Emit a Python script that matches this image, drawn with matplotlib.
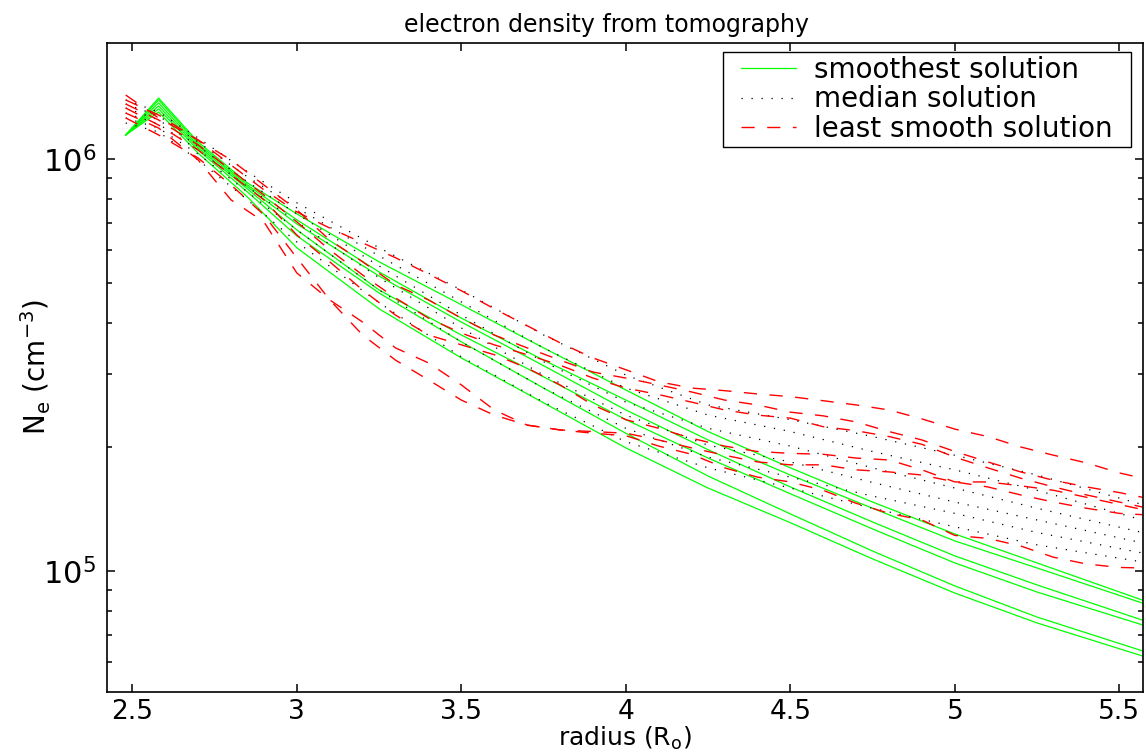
import matplotlib
matplotlib.use("Agg")
import matplotlib.pyplot as plt
from matplotlib.patches import Rectangle
from matplotlib.ticker import FixedLocator, FixedFormatter, LogLocator, NullFormatter, LogFormatterSciNotation

# ---------------- data ----------------
radius_smooth = [2.48, 2.58, 2.7, 2.85, 3.0, 3.25, 3.5, 3.75, 4.0, 4.25, 4.5, 4.75, 5.0, 5.25, 5.57]
radius_rough = [2.48, 2.58, 2.7, 2.8, 2.9, 3.0, 3.1, 3.2, 3.3, 3.4, 3.5, 3.6, 3.7, 3.8, 3.9, 4.0,
                4.1, 4.2, 4.3, 4.4, 4.5, 4.6, 4.7, 4.8, 4.9, 5.0, 5.1, 5.2, 5.3, 5.4, 5.5, 5.57]

smooth_1 = [1.144e6, 1.406e6, 1.100e6, 8.75e5, 7.36e5, 5.63e5, 4.43e5, 3.48e5, 2.75e5, 2.18e5, 1.78e5, 1.47e5, 1.23e5, 1.046e5, 8.50e4]
smooth_2 = [1.144e6, 1.391e6, 1.088e6, 8.65e5, 7.12e5, 5.32e5, 4.11e5, 3.25e5, 2.60e5, 2.08e5, 1.71e5, 1.42e5, 1.183e5, 1.017e5, 8.36e4]
smooth_3 = [1.144e6, 1.368e6, 1.076e6, 8.56e5, 6.96e5, 5.20e5, 4.02e5, 3.15e5, 2.46e5, 1.97e5, 1.60e5, 1.315e5, 1.088e5, 9.25e4, 7.60e4]
smooth_4 = [1.144e6, 1.345e6, 1.064e6, 8.46e5, 6.73e5, 4.81e5, 3.74e5, 2.96e5, 2.33e5, 1.88e5, 1.54e5, 1.265e5, 1.046e5, 8.89e4, 7.40e4]
smooth_5 = [1.144e6, 1.323e6, 1.052e6, 8.32e5, 6.51e5, 4.73e5, 3.60e5, 2.78e5, 2.16e5, 1.70e5, 1.376e5, 1.118e5, 9.20e4, 7.73e4, 6.40e4]
smooth_6 = [1.144e6, 1.300e6, 1.034e6, 8.09e5, 6.09e5, 4.33e5, 3.29e5, 2.56e5, 1.99e5, 1.59e5, 1.31e5, 1.07e5, 8.84e4, 7.48e4, 6.22e4]

median_1 = [1.391e6, 1.300e6, 1.125e6, 9.31e5, 7.83e5, 6.09e5, 4.81e5, 3.74e5, 2.99e5, 2.53e5, 2.33e5, 2.12e5, 1.91e5, 1.71e5, 1.45e5]
median_2 = [1.360e6, 1.272e6, 1.100e6, 9.05e5, 7.61e5, 5.82e5, 4.50e5, 3.48e5, 2.78e5, 2.39e5, 2.18e5, 1.95e5, 1.76e5, 1.57e5, 1.33e5]
median_3 = [1.330e6, 1.244e6, 1.076e6, 8.80e5, 7.36e5, 5.50e5, 4.18e5, 3.22e5, 2.57e5, 2.22e5, 2.01e5, 1.78e5, 1.59e5, 1.42e5, 1.24e5]
median_4 = [1.293e6, 1.216e6, 1.052e6, 8.56e5, 7.04e5, 5.15e5, 3.89e5, 2.99e5, 2.39e5, 2.02e5, 1.84e5, 1.64e5, 1.47e5, 1.33e5, 1.17e5]
median_5 = [1.258e6, 1.189e6, 1.028e6, 8.32e5, 6.73e5, 4.81e5, 3.60e5, 2.78e5, 2.22e5, 1.89e5, 1.69e5, 1.52e5, 1.38e5, 1.24e5, 1.106e5]
median_6 = [1.223e6, 1.163e6, 9.95e5, 7.96e5, 6.29e5, 4.48e5, 3.31e5, 2.57e5, 2.06e5, 1.78e5, 1.59e5, 1.42e5, 1.28e5, 1.157e5, 1.052e5]

rough_1 = [1.430e6, 1.258e6, 1.112e6, 9.67e5, 8.42e5, 7.44e5, 6.80e5, 6.26e5, 5.76e5, 5.26e5, 4.79e5, 4.33e5, 3.94e5, 3.58e5, 3.29e5, 3.08e5,
           2.88e5, 2.78e5, 2.74e5, 2.69e5, 2.65e5, 2.59e5, 2.53e5, 2.46e5, 2.34e5, 2.21e5, 2.12e5, 2.00e5, 1.91e5, 1.83e5, 1.73e5, 1.68e5]
rough_2 = [1.391e6, 1.279e6, 1.112e6, 9.95e5, 8.65e5, 7.53e5, 6.36e5, 5.63e5, 4.95e5, 4.55e5, 4.11e5, 3.74e5, 3.48e5, 3.25e5, 3.04e5, 2.94e5,
           2.83e5, 2.72e5, 2.60e5, 2.53e5, 2.43e5, 2.38e5, 2.30e5, 2.18e5, 2.08e5, 1.95e5, 1.84e5, 1.74e5, 1.66e5, 1.60e5, 1.55e5, 1.51e5]
rough_3 = [1.360e6, 1.244e6, 1.082e6, 9.40e5, 8.18e5, 7.04e5, 6.02e5, 5.23e5, 4.60e5, 4.11e5, 3.78e5, 3.54e5, 3.35e5, 3.16e5, 2.94e5, 2.78e5,
           2.68e5, 2.57e5, 2.46e5, 2.39e5, 2.35e5, 2.24e5, 2.19e5, 2.12e5, 2.03e5, 1.89e5, 1.78e5, 1.68e5, 1.60e5, 1.53e5, 1.47e5, 1.43e5]
rough_4 = [1.330e6, 1.209e6, 1.052e6, 9.15e5, 7.96e5, 6.54e5, 5.63e5, 4.81e5, 4.18e5, 3.74e5, 3.54e5, 3.35e5, 3.11e5, 2.83e5, 2.53e5, 2.33e5,
           2.22e5, 2.10e5, 2.01e5, 1.95e5, 1.93e5, 1.92e5, 1.88e5, 1.86e5, 1.76e5, 1.645e5, 1.645e5, 1.61e5, 1.57e5, 1.51e5, 1.45e5, 1.41e5]
rough_5 = [1.258e6, 1.144e6, 1.006e6, 8.65e5, 7.32e5, 5.76e5, 4.55e5, 3.74e5, 3.25e5, 2.91e5, 2.60e5, 2.39e5, 2.26e5, 2.20e5, 2.18e5, 2.16e5,
           2.08e5, 1.99e5, 1.91e5, 1.84e5, 1.81e5, 1.81e5, 1.76e5, 1.74e5, 1.71e5, 1.645e5, 1.60e5, 1.53e5, 1.47e5, 1.42e5, 1.38e5, 1.37e5]
rough_6 = [1.293e6, 1.189e6, 9.95e5, 7.96e5, 7.04e5, 5.29e5, 4.55e5, 4.02e5, 3.48e5, 3.20e5, 2.83e5, 2.46e5, 2.26e5, 2.20e5, 2.16e5, 2.13e5,
           2.01e5, 1.92e5, 1.78e5, 1.69e5, 1.645e5, 1.57e5, 1.46e5, 1.38e5, 1.33e5, 1.22e5, 1.20e5, 1.15e5, 1.08e5, 1.04e5, 1.02e5, 1.017e5]

smoothest = [smooth_1, smooth_2, smooth_3, smooth_4, smooth_5, smooth_6]
median = [median_1, median_2, median_3, median_4, median_5, median_6]
least_smooth = [rough_1, rough_2, rough_3, rough_4, rough_5, rough_6]

legend_labels = ["smoothest solution", "median solution", "least smooth solution"]
x_ticks = [2.5, 3, 3.5, 4, 4.5, 5, 5.5]
x_tick_labels = ["2.5", "3", "3.5", "4", "4.5", "5", "5.5"]
y_major = [1e5, 1e6]
title_text = "electron density from tomography"
x_label = r"radius (R$_\mathregular{o}$)"
y_label = r"N$_\mathregular{e}$ (cm$^\mathregular{-3}$)"

# ---------------- style ----------------
FONT = "DejaVu Sans"
plt.rcParams["font.family"] = [FONT]
plt.rcParams["mathtext.fontset"] = "custom"
plt.rcParams["mathtext.rm"] = FONT
plt.rcParams["axes.linewidth"] = 1.2

fig = plt.figure(figsize=(11.46, 7.54), dpi=100)
ax = fig.add_axes([0.0936, 0.0826, 0.9041, 0.8608])

h_s = h_m = h_r = None
for ys in smoothest:
    (h_s,) = ax.plot(radius_smooth, ys, color="#00ff00", lw=0.9)
for ys in median:
    (h_m,) = ax.plot(radius_smooth, ys, color="black", lw=0.9, linestyle=(0, (1, 7)))
for ys in least_smooth:
    (h_r,) = ax.plot(radius_rough, ys, color="#ff0000", lw=1.0, linestyle=(0, (9.5, 9)))

ax.set_yscale("log")
ax.set_xlim(2.424, 5.573)
ax.set_ylim(5.093e4, 1.916e6)

ax.xaxis.set_major_locator(FixedLocator(x_ticks))
ax.xaxis.set_major_formatter(FixedFormatter(x_tick_labels))
ax.xaxis.set_minor_locator(FixedLocator([]))
ax.yaxis.set_major_locator(FixedLocator(y_major))
ax.yaxis.set_major_formatter(LogFormatterSciNotation())
ax.yaxis.set_minor_locator(LogLocator(base=10, subs=[2, 3, 4, 5, 6, 7, 8, 9]))
ax.yaxis.set_minor_formatter(NullFormatter())

ax.tick_params(which="both", direction="in", top=True, right=True, width=1.1)
ax.tick_params(axis="x", labelsize=19, pad=5)
ax.tick_params(axis="y", labelsize=22, pad=8)
ax.tick_params(which="major", length=6)
ax.tick_params(which="minor", length=3.8)

ax.set_title(title_text, fontsize=17, pad=8, x=0.482)
ax.set_xlabel(x_label, fontsize=18, labelpad=0)
ax.set_ylabel(y_label, fontsize=20)
ax.yaxis.set_label_coords(-0.052, 0.5)

leg = ax.legend([h_s, h_m, h_r], legend_labels, loc="upper right",
                bbox_to_anchor=(0.9708, 0.9795), borderaxespad=0, borderpad=0,
                fontsize=20, frameon=False,
                handlelength=1.95, handletextpad=0.68, labelspacing=0.05)
leg.set_zorder(6)

# legend frame: wider side margins than top/bottom, as in the reference
fig.canvas.draw()
bb = leg.get_window_extent().transformed(ax.transAxes.inverted())
px_w = 1.0 / ax.bbox.width
px_h = 1.0 / ax.bbox.height
pad_x, pad_y = 18, 4
frame = Rectangle((bb.x0 - pad_x * px_w, bb.y0 - pad_y * px_h),
                  bb.width + 2 * pad_x * px_w, bb.height + 2 * pad_y * px_h,
                  transform=ax.transAxes, facecolor="white", edgecolor="black",
                  lw=1.0, zorder=5)
ax.add_patch(frame)

fig.savefig("out.png", dpi=100)
